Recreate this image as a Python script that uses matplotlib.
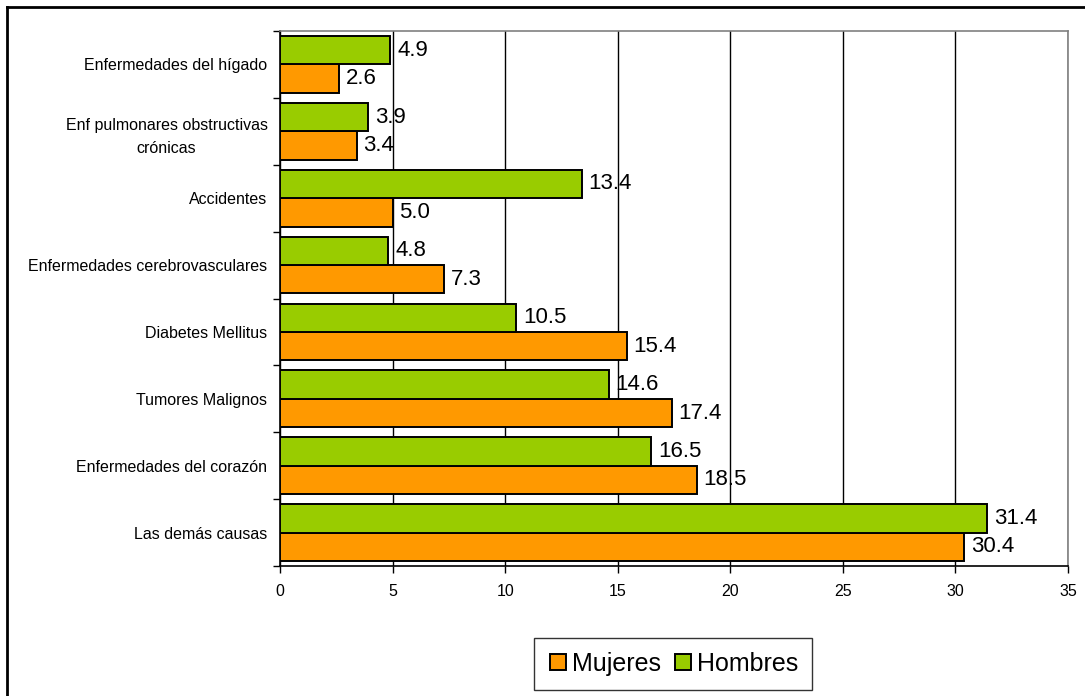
import matplotlib.pyplot as plt
from matplotlib.lines import Line2D
import numpy as np

plt.rcParams["font.family"] = ["Liberation Sans", "DejaVu Sans"]

# categories listed top to bottom as in the chart
categories = [
    "Enfermedades del hígado",
    "Enf pulmonares obstructivas\ncrónicas",
    "Accidentes",
    "Enfermedades cerebrovasculares",
    "Diabetes Mellitus",
    "Tumores Malignos",
    "Enfermedades del corazón",
    "Las demás causas",
]
mujeres = [2.6, 3.4, 5.0, 7.3, 15.4, 17.4, 18.5, 30.4]
hombres = [4.9, 3.9, 13.4, 4.8, 10.5, 14.6, 16.5, 31.4]

ORANGE = "#FF9900"
GREEN = "#99CC00"

fig = plt.figure(figsize=(10.85, 6.96), dpi=100)
ax = fig.add_axes([280 / 1085, 1 - 566 / 696, (1068 - 280) / 1085, (566 - 31) / 696])

n = len(categories)
y = np.arange(n)[::-1]  # top category at highest y
h = 0.425

bm = ax.barh(y - h / 2, mujeres, height=h, color=ORANGE, edgecolor="black",
             linewidth=1.4, label="Mujeres", zorder=3)
bh = ax.barh(y + h / 2, hombres, height=h, color=GREEN, edgecolor="black",
             linewidth=1.4, label="Hombres", zorder=3)

for bars, vals in ((bm, mujeres), (bh, hombres)):
    for b, v in zip(bars, vals):
        ax.annotate(f"{v:.1f}", (v, b.get_y() + b.get_height() / 2),
                    xytext=(5, 0), textcoords="offset points",
                    va="center", ha="left", fontsize=16, zorder=4)

ax.set_xlim(0, 35)
ax.set_ylim(-0.5, n - 0.5)
ax.set_xticks(np.arange(0, 36, 5))
ax.set_yticks(y)
ax.set_yticklabels(categories, ha="right", multialignment="center",
                   linespacing=1.7)
ax.set_yticks(np.arange(-0.5, n, 1), minor=True)
ax.tick_params(axis="y", which="major", length=0, pad=9, labelsize=11.5)
ax.tick_params(axis="y", which="minor", length=5, direction="out", width=1)
ax.tick_params(axis="x", length=5, direction="out", width=1, labelsize=11.5, pad=8)

ax.grid(axis="x", color="black", linewidth=1, zorder=0)
ax.spines["left"].set_color("black")
ax.spines["bottom"].set_color("black")
ax.spines["top"].set_color("#808080")
ax.spines["right"].set_color("#808080")
for s in ax.spines.values():
    s.set_linewidth(1.2)

handles = [
    Line2D([], [], marker="s", linestyle="none", markersize=11,
           markerfacecolor=ORANGE, markeredgecolor="black", markeredgewidth=1.4),
    Line2D([], [], marker="s", linestyle="none", markersize=11,
           markerfacecolor=GREEN, markeredgecolor="black", markeredgewidth=1.4),
]
leg = fig.legend(handles, ["Mujeres", "Hombres"], loc="center",
                 bbox_to_anchor=(673 / 1085, 1 - 664 / 696), ncol=2,
                 fontsize=18, frameon=True, fancybox=False, edgecolor="black",
                 handletextpad=0.15, columnspacing=0.5, handlelength=0.8,
                 borderpad=0.55)
leg.get_frame().set_linewidth(1)

# outer chart border (only top and left edges are visible in the frame)
fig.add_artist(Line2D([7 / 1085, 1], [1 - 7 / 696, 1 - 7 / 696],
                      transform=fig.transFigure, color="black", lw=2))
fig.add_artist(Line2D([7 / 1085, 7 / 1085], [0, 1 - 7 / 696],
                      transform=fig.transFigure, color="black", lw=2))

fig.savefig("out.png", dpi=100)
